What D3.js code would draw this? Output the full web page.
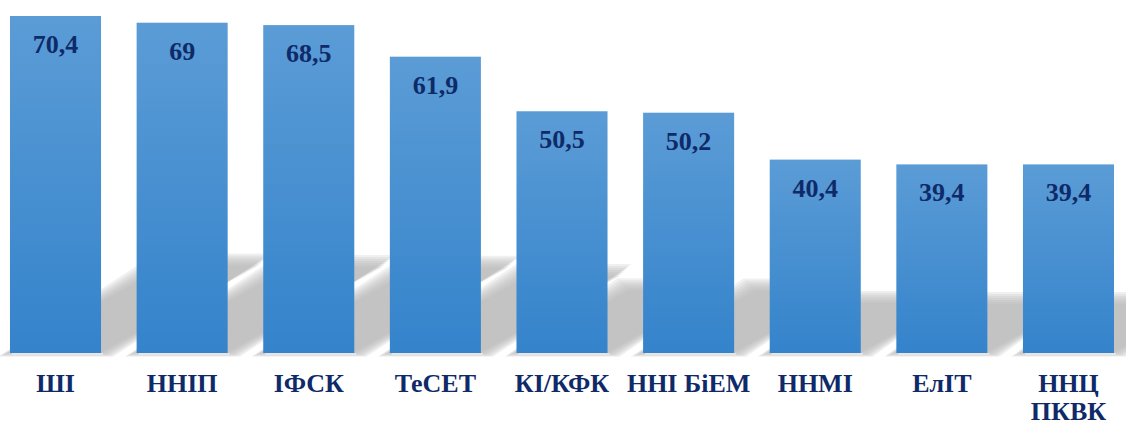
<!DOCTYPE html>
<html>
<head>
<meta charset="utf-8">
<script src="https://cdn.jsdelivr.net/npm/d3@7"></script>
<style>
  body { margin: 0; background: #fff; }
  svg { display: block; }
</style>
</head>
<body>
<div class="chart"></div>
<script>
// data
const categories = ["ШІ", "ННІП", "ІФСК", "ТеСЕТ", "КІ/КФК", "ННІ БіЕМ", "ННМІ", "ЕлІТ", "ННЦ ПКВК"]
const values = [70.4, 69, 68.5, 61.9, 50.5, 50.2, 40.4, 39.4, 39.4]
// multi-line category labels
const labelLines = [["ШІ"], ["ННІП"], ["ІФСК"], ["ТеСЕТ"], ["КІ/КФК"], ["ННІ БіЕМ"], ["ННМІ"], ["ЕлІТ"], ["ННЦ", "ПКВК"]]

let width = 1126
let height = 423
let baseY = 353
let topY = 16
let fontFam = "'Liberation Serif', Tinos, 'Times New Roman', serif"

let svg = d3.select(".chart")
    .append("svg")
    .attr("width", width)
    .attr("height", height)
    .attr("font-family", "Liberation Serif")
    .attr("font-weight", "bold")

let x = d3.scaleBand()
    .domain(categories)
    .range([10, 1114])
    .paddingInner(0.281)
    .paddingOuter(0)

let y = d3.scaleLinear()
    .domain([0, d3.max(values)])
    .range([baseY, topY])

let data = categories.map((c, i) => ({name: c, value: values[i], lines: labelLines[i]}))

let defs = svg.append("defs")

// per-bar vertical gradient
let grad = defs.append("linearGradient")
    .attr("id", "barGrad")
    .attr("x1", 0).attr("y1", 0)
    .attr("x2", 0).attr("y2", 1)
grad.append("stop").attr("offset", "0%").attr("stop-color", "#5b9cd6")
grad.append("stop").attr("offset", "100%").attr("stop-color", "#3483cb")

// slanted floor shadows, soft edge made from stacked layers
let shadow = svg.append("g")
let layers = d3.range(7)
data.forEach(d => {
    let h = (baseY - y(d.value)) * 0.26
    let dx = h * 1.8
    let x0 = x(d.name), x1 = x(d.name) + x.bandwidth()
    shadow.selectAll(null)
        .data(layers)
        .join("path")
        .attr("d", k => {
            let g = (6 - k) * 2
            return "M" + (x0 - g) + "," + (baseY - 1 + g * 0.4) +
                "L" + (x1 + g) + "," + (baseY - 1 + g * 0.4) +
                "L" + (x1 + dx + g) + "," + (baseY - h - g) +
                "L" + (x0 + dx - g) + "," + (baseY - h - g) + "Z"
        })
        .attr("fill", "#b6b6b6")
        .attr("opacity", 0.2)
})

// thin shadow under the bars
svg.append("g")
    .selectAll("rect")
    .data(data)
    .join("rect")
    .attr("x", d => x(d.name) + 2)
    .attr("y", baseY)
    .attr("width", x.bandwidth())
    .attr("height", 2)
    .attr("fill", "#e6e6e6")

svg.append("g")
    .selectAll("rect")
    .data(data)
    .join("rect")
    .attr("x", d => x(d.name))
    .attr("y", d => y(d.value))
    .attr("width", x.bandwidth())
    .attr("height", d => baseY - y(d.value))
    .attr("fill", "url(#barGrad)")

let fmt = v => String(v).replace(".", ",")
let cx = d => x(d.name) + x.bandwidth() / 2

let vals = svg.append("g")
    .selectAll("text")
    .data(data)
    .join("text")
    .attr("class", "lbl")
    .attr("x", cx)
    .attr("y", d => y(d.value) + 37)
    .attr("text-anchor", "middle")
    .attr("font-family", "Liberation Serif")
    .style("font-family", fontFam)
    .style("font-weight", "bold")
    .style("font-size", "26px")
    .attr("fill", "#0f2a68")
    .text(d => fmt(d.value))

let cats = svg.append("g")
    .selectAll("text")
    .data(data)
    .join("text")
    .attr("class", "lbl")
    .attr("y", 392)
    .attr("text-anchor", "middle")
    .attr("font-family", "Liberation Serif")
    .style("font-family", fontFam)
    .style("font-weight", "bold")
    .style("font-size", "26px")
    .attr("fill", "#0f2a68")

cats.selectAll("tspan")
    .data(d => d.lines.map(l => ({l: l, c: cx(d)})))
    .join("tspan")
    .attr("x", t => t.c)
    .attr("dy", (t, i) => i === 0 ? 0 : 28)
    .text(t => t.l)

// re-apply the font once the fonts are ready, in case the first pass fell back
if (document.fonts) {
    document.fonts.load("bold 26px 'Liberation Serif'", "ШІ 70,4").then(() => {
        d3.selectAll("text.lbl").style("font-family", fontFam)
    })
}
</script>
</body>
</html>
